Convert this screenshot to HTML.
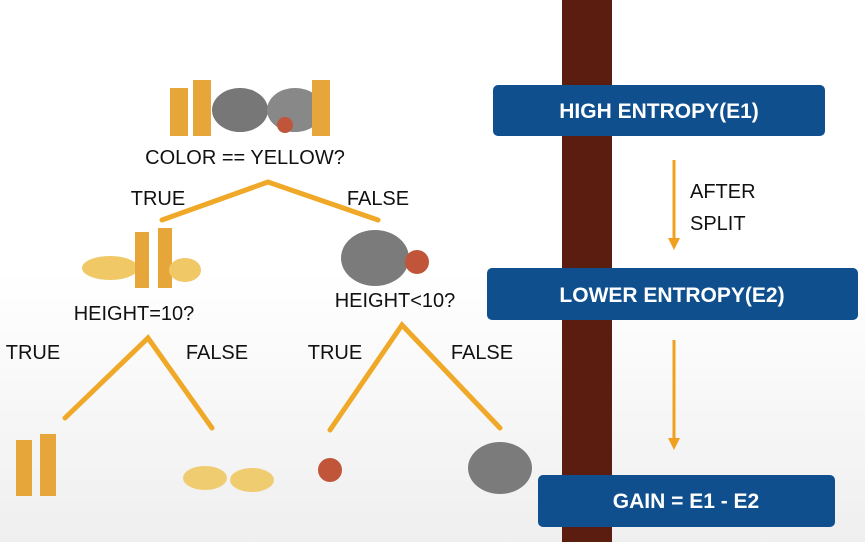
<!DOCTYPE html>
<html><head><meta charset="utf-8"><style>
html,body{margin:0;padding:0;background:#fff}
svg{display:block}
text{font-family:"Liberation Sans",sans-serif;font-size:20px;fill:#111}
.bt{fill:#fff;font-size:21px;font-weight:bold}
</style></head><body>
<svg width="865" height="542" viewBox="0 0 865 542">
<defs><linearGradient id="bg" x1="0" y1="0" x2="0" y2="1"><stop offset="0.5" stop-color="#fff"/><stop offset="1" stop-color="#efefef"/></linearGradient></defs>
<rect width="865" height="542" fill="url(#bg)"/>
<rect x="562" y="0" width="50" height="542" fill="#5a1d10"/>
<g><rect x="493" y="85" width="332" height="51" rx="5" fill="#0f4f8e"/><text class="bt" x="659" y="118" text-anchor="middle">HIGH ENTROPY(E1)</text></g>
<g><rect x="487" y="268" width="371" height="52" rx="5" fill="#0f4f8e"/><text class="bt" x="672" y="302" text-anchor="middle">LOWER ENTROPY(E2)</text></g>
<g><rect x="538" y="475" width="297" height="52" rx="5" fill="#0f4f8e"/><text class="bt" x="686" y="508" text-anchor="middle">GAIN = E1 - E2</text></g>
<g stroke="#f0a020" stroke-width="3" fill="#f0a020">
<line x1="674" y1="160" x2="674" y2="240"/><polygon points="668,238 680,238 674,250" stroke="none"/>
<line x1="674" y1="340" x2="674" y2="440"/><polygon points="668,438 680,438 674,450" stroke="none"/>
</g>
<text x="690" y="198">AFTER</text>
<text x="690" y="230">SPLIT</text>
<g stroke="#f0a828" stroke-width="5" fill="none" stroke-linecap="round">
<polyline points="162,220 268,182 378,220"/>
<polyline points="65,418 148,338 212,428"/>
<polyline points="330,430 402,325 500,428"/>
</g>
<text x="245" y="164" text-anchor="middle">COLOR == YELLOW?</text>
<text x="158" y="205" text-anchor="middle">TRUE</text>
<text x="378" y="205" text-anchor="middle">FALSE</text>
<text x="134" y="320" text-anchor="middle">HEIGHT=10?</text>
<text x="395" y="307" text-anchor="middle">HEIGHT&lt;10?</text>
<text x="33" y="359" text-anchor="middle">TRUE</text>
<text x="217" y="359" text-anchor="middle">FALSE</text>
<text x="335" y="359" text-anchor="middle">TRUE</text>
<text x="482" y="359" text-anchor="middle">FALSE</text>
<g>
<rect x="170" y="88" width="18" height="48" fill="#e6a63a"/><rect x="193" y="80" width="18" height="56" fill="#e6a63a"/>
<ellipse cx="240" cy="110" rx="28" ry="22" fill="#777"/><ellipse cx="295" cy="110" rx="28" ry="22" fill="#888"/>
<circle cx="285" cy="125" r="8" fill="#c0553a"/><rect x="312" y="80" width="18" height="56" fill="#e6a63a"/>
</g>
<g>
<ellipse cx="110" cy="268" rx="28" ry="12" fill="#f0c866"/><rect x="135" y="232" width="14" height="56" fill="#e6a63a"/><rect x="158" y="228" width="14" height="60" fill="#e6a63a"/><ellipse cx="185" cy="270" rx="16" ry="12" fill="#f0c866"/>
</g>
<g>
<ellipse cx="375" cy="258" rx="34" ry="28" fill="#7b7b7b"/><circle cx="417" cy="262" r="12" fill="#c0553a"/>
</g>
<g><rect x="16" y="440" width="16" height="56" fill="#e6a63a"/><rect x="40" y="434" width="16" height="62" fill="#e6a63a"/></g>
<g><ellipse cx="205" cy="478" rx="22" ry="12" fill="#f0cc70"/><ellipse cx="252" cy="480" rx="22" ry="12" fill="#f0cc70"/></g>
<g><circle cx="330" cy="470" r="12" fill="#c0553a"/></g>
<g><ellipse cx="500" cy="468" rx="32" ry="26" fill="#7b7b7b"/></g>
</svg>
</body></html>
